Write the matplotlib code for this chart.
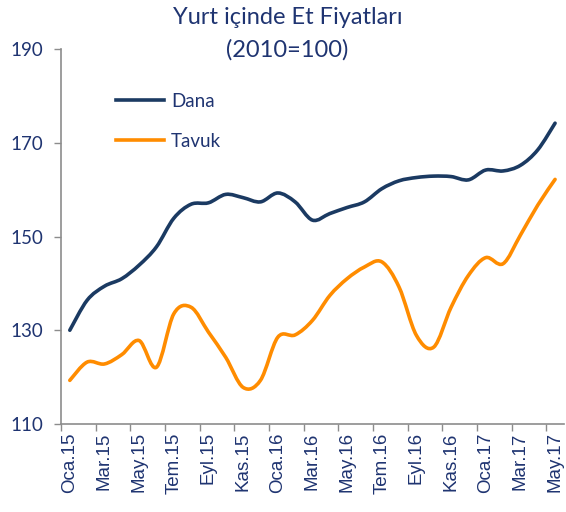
import matplotlib
matplotlib.use("Agg")
import matplotlib.pyplot as plt
import numpy as np
from matplotlib.path import Path
from matplotlib.patches import PathPatch
from matplotlib.lines import Line2D

# ── data ─────────────────────────────────────────────────────────────────────
months = ["Oca.15", "Şub.15", "Mar.15", "Nis.15", "May.15", "Haz.15",
          "Tem.15", "Ağu.15", "Eyl.15", "Eki.15", "Kas.15", "Ara.15",
          "Oca.16", "Şub.16", "Mar.16", "Nis.16", "May.16", "Haz.16",
          "Tem.16", "Ağu.16", "Eyl.16", "Eki.16", "Kas.16", "Ara.16",
          "Oca.17", "Şub.17", "Mar.17", "Nis.17", "May.17"]
dana = [130.0, 136.4, 139.4, 141.0, 143.9, 147.8, 153.9, 156.9, 157.2, 159.0,
        158.3, 157.4, 159.3, 157.4, 153.5, 154.9, 156.2, 157.4, 160.2, 161.9,
        162.6, 162.9, 162.8, 162.1, 164.2, 164.0, 165.2, 168.5, 174.2]
tavuk = [119.3, 123.2, 122.8, 124.8, 127.8, 122.1, 133.5, 134.9, 129.6, 124.2,
         117.8, 119.3, 128.5, 129.0, 132.1, 137.4, 141.0, 143.5, 144.6, 139.2,
         128.9, 126.4, 134.9, 141.7, 145.5, 144.2, 150.3, 156.7, 162.2]
y_ticks = [110, 130, 150, 170, 190]

NAVY = "#1b3a62"
ORANGE = "#ff8c00"
TEXT = "#1f3471"
AXIS = "#8c8c8c"


def smooth_path(xs, ys):
    """Excel-style smoothed line: cubic Bezier through every data point."""
    pts = np.column_stack([xs, ys]).astype(float)
    n = len(pts)
    verts = [pts[0]]
    codes = [Path.MOVETO]
    for i in range(n - 1):
        p0 = pts[i - 1] if i > 0 else pts[i]
        p1, p2 = pts[i], pts[i + 1]
        p3 = pts[i + 2] if i + 2 < n else pts[i + 1]
        verts += [p1 + (p2 - p0) / 6, p2 - (p3 - p1) / 6, p2]
        codes += [Path.CURVE4] * 3
    return Path(verts, codes)


x = np.arange(len(months))

fig = plt.figure(figsize=(5.66, 5.12), dpi=100)
ax = fig.add_axes([0.108, 0.172, 0.888, 0.732])

for ys, c in [(dana, NAVY), (tavuk, ORANGE)]:
    ax.add_patch(PathPatch(smooth_path(x, ys), facecolor="none", edgecolor=c,
                           lw=2.6, capstyle="round", joinstyle="round"))

ax.set_xlim(-0.5, len(months) - 0.5)
ax.set_ylim(110, 190)

ax.set_yticks(y_ticks)
ax.set_yticklabels([str(v) for v in y_ticks], family="Lato", fontsize=13.5, color=TEXT)

ax.set_xticks(x[::2])
ax.set_xticklabels(months[::2], rotation=90, family="Liberation Sans",
                   fontsize=13.5, color=TEXT)
ax.set_xticks(np.arange(-0.5, len(months) - 1, 2), minor=True)
ax.tick_params(axis="x", which="major", length=0, pad=6)
ax.tick_params(axis="x", which="minor", length=5, color=AXIS, width=1)
ax.tick_params(axis="y", length=5, color=AXIS, width=1, pad=8)

for s in ["top", "right"]:
    ax.spines[s].set_visible(False)
for s in ["left", "bottom"]:
    ax.spines[s].set_color(AXIS)
    ax.spines[s].set_linewidth(1.2)

handles = [Line2D([], [], color=NAVY, lw=2.6), Line2D([], [], color=ORANGE, lw=2.6)]
leg = ax.legend(handles, ["Dana", "Tavuk"], loc="upper left",
                bbox_to_anchor=(0.09, 0.908), frameon=False, borderpad=0,
                handlelength=2.6, handletextpad=0.35, labelspacing=1.22,
                prop={"family": "Lato", "size": 13.5})
for t in leg.get_texts():
    t.set_color(TEXT)

fig.text(0.508, 0.965, "Yurt içinde Et Fiyatları", ha="center", va="center",
         family="Lato", fontsize=17, color=TEXT)
fig.text(0.508, 0.902, "(2010=100)", ha="center", va="center",
         family="Lato", fontsize=17, color=TEXT)

fig.savefig("out.png", dpi=100)
